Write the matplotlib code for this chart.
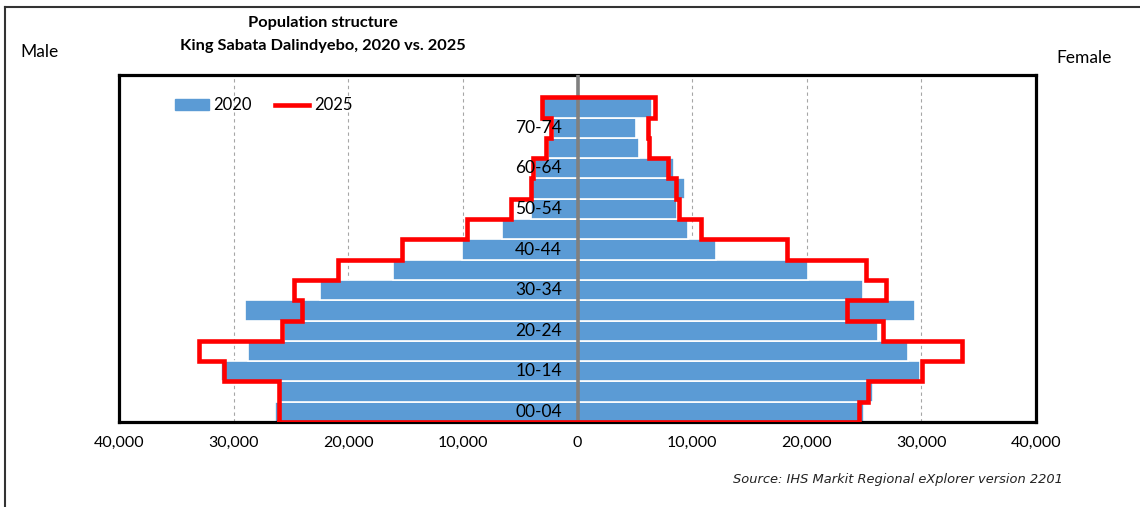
import matplotlib
matplotlib.use("Agg")
import matplotlib.pyplot as plt
from matplotlib.lines import Line2D
import numpy as np

age_groups = ["00-04", "05-09", "10-14", "15-19", "20-24", "25-29", "30-34", "35-39",
              "40-44", "45-49", "50-54", "55-59", "60-64", "65-69", "70-74", "75+"]
male_2020 = [26360, 25920, 31120, 28710, 25630, 29030, 22490, 16070,
             10090, 6570, 4040, 4240, 3750, 2590, 2150, 3030]
female_2020 = [25020, 25800, 29850, 28800, 26220, 29410, 24910, 20110,
               12090, 9680, 8660, 9380, 8420, 5400, 5140, 6540]
male_2025 = [26040, 26040, 30840, 33040, 25780, 24000, 24730, 20900,
             15340, 9650, 5780, 4040, 3900, 2790, 2290, 3100]
female_2025 = [24560, 25370, 30030, 33570, 26680, 23490, 26950, 25140,
               18310, 10760, 8870, 8580, 7930, 6250, 6190, 6780]
x_ticks = [-40000, -30000, -20000, -10000, 0, 10000, 20000, 30000, 40000]
x_tick_labels = ["40,000", "30,000", "20,000", "10,000", "0", "10,000", "20,000", "30,000", "40,000"]
shown_labels = ["00-04", "10-14", "20-24", "30-34", "40-44", "50-54", "60-64", "70-74"]

FONT = ["Lato", "DejaVu Sans"]
plt.rcParams['font.family'] = FONT

fig = plt.figure(figsize=(11.4, 5.07), dpi=100)
ax = fig.add_axes([119/1140, (507-422)/507, (1036-119)/1140, (422-75)/507])

y = np.arange(len(age_groups))
blue = "#5B9BD5"
ax.barh(y, [-v for v in male_2020], height=1.0, color=blue, edgecolor="white", linewidth=1.2, zorder=2)
ax.barh(y, female_2020, height=1.0, color=blue, edgecolor="white", linewidth=1.2, zorder=2)

# 2025 step outline
xs, ys = [], []
n = len(age_groups)
for i in range(n):
    xs += [-male_2025[i], -male_2025[i]]
    ys += [i - 0.5, i + 0.5]
for i in range(n - 1, -1, -1):
    xs += [female_2025[i], female_2025[i]]
    ys += [i + 0.5, i - 0.5]
xs.append(xs[0]); ys.append(ys[0])
ax.plot(xs, ys, color="#FF0000", lw=3.3, solid_joinstyle="miter", zorder=4)

ax.axvline(0, color="#808080", lw=2.6, zorder=3)

for gx in [-30000, -20000, -10000, 10000, 20000, 30000]:
    ax.axvline(gx, color="#A6A6A6", lw=0.8, ls=(0, (3, 3)), zorder=1)

for i, lab in enumerate(age_groups):
    if lab in shown_labels:
        ax.text(-1350, i, lab, ha="right", va="center", fontsize=12.5, color="black", zorder=5)

ax.set_xlim(-40000, 40000)
ax.set_ylim(-0.5, 16.6)
ax.set_yticks([])
ax.set_xticks(x_ticks)
ax.set_xticklabels(x_tick_labels, fontsize=11.5)
ax.tick_params(axis="x", length=0, pad=10)
for s in ax.spines.values():
    s.set_linewidth(2.3)
    s.set_color("black")

handles = [plt.Rectangle((0, 0), 1, 1, color=blue),
           Line2D([0], [0], color="#FF0000", lw=3.3)]
ax.legend(handles, ["2020", "2025"], loc="center left", bbox_to_anchor=(0.045, 0.913),
          ncol=2, frameon=False, fontsize=12, handlelength=2.0, handleheight=0.6,
          columnspacing=1.4, handletextpad=0.3)

fig.text(323/1140, 1 - 23/507, "Population structure", ha="center", va="center",
         fontsize=11.8, fontweight="bold")
fig.text(323/1140, 1 - 46/507, "King Sabata Dalindyebo, 2020 vs. 2025", ha="center", va="center",
         fontsize=11.8, fontweight="bold")
fig.text(20/1140, 1 - 52/507, "Male", ha="left", va="center", fontsize=12.5)
fig.text(1056/1140, 1 - 58/507, "Female", ha="left", va="center", fontsize=12.5)
fig.text(1063/1140, 1 - 480/507, "Source: IHS Markit Regional eXplorer version 2201",
         ha="right", va="center", fontsize=9.4, style="italic", family=["DejaVu Sans"], color="#222222")

fig.add_artist(Line2D([5/1140, 1], [1 - 7/507, 1 - 7/507], color="#333333", lw=1.5, transform=fig.transFigure))
fig.add_artist(Line2D([5/1140, 5/1140], [0, 1 - 7/507], color="#333333", lw=1.5, transform=fig.transFigure))

fig.savefig("out.png", dpi=100)
